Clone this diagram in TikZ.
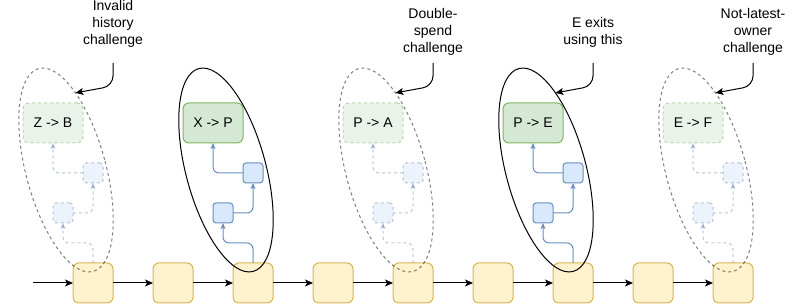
\documentclass[tikz,border=0pt]{standalone}
\usepackage{fontspec}
\setmainfont{Liberation Sans}
\usepackage{xcolor}
\usepackage{tikz}
\usetikzlibrary{arrows.meta,positioning,shapes.geometric}

\definecolor{blockfill}{HTML}{FFF2CC}
\definecolor{blockline}{HTML}{D6B656}
\definecolor{txfill}{HTML}{D5E8D4}
\definecolor{txline}{HTML}{82B366}
\definecolor{sigfill}{HTML}{DAE8FC}
\definecolor{sigline}{HTML}{6C8EBF}

\begin{document}
\begin{tikzpicture}[
  x=1pt, y=1pt,
  node distance=40pt,
  every node/.style={font=\fontsize{14}{16.8}\selectfont},
  block/.style={draw=blockline, fill=blockfill, line width=1pt, rounded corners=6pt, minimum size=40pt, inner sep=0pt, outer sep=0pt},
  tx/.style={draw=txline, fill=txfill, line width=1pt, rounded corners=6pt, minimum width=60pt, minimum height=40pt, inner sep=0pt, outer sep=0pt},
  sig/.style={draw=sigline, fill=sigfill, line width=1pt, rounded corners=3pt, minimum size=20pt, inner sep=0pt, outer sep=0pt},
  ring/.style={draw=black, ellipse, line width=1pt, minimum width=80pt, minimum height=210pt, inner sep=0pt, outer sep=0pt, rotate=15},
  ghost/.style={dash pattern=on 3pt off 3pt, draw opacity=0.5, fill opacity=0.5, text opacity=1},
  note/.style={align=center, inner sep=0pt},
  arr/.style={-{Stealth[length=8pt,width=7pt,inset=2pt]}, line width=1pt},
  link/.style={-{Stealth[length=6pt,width=5pt,inset=1.5pt]}, draw=sigline, line width=1pt, rounded corners=6pt}
]
\useasboundingbox (0,0) rectangle (794,304);

% chain of blocks
\coordinate (in) at (33,21);
\node[block] (b1) at (93,21) {};
\node[block, right=of b1] (b2) {};
\node[block, right=of b2] (b3) {};
\node[block, right=of b3] (b4) {};
\node[block, right=of b4] (b5) {};
\node[block, right=of b5] (b6) {};
\node[block, right=of b6] (b7) {};
\node[block, right=of b7] (b8) {};
\node[block, right=of b8] (b9) {};

\draw[arr] (in) -- (b1);
\draw[arr] (b1) -- (b2);
\draw[arr] (b2) -- (b3);
\draw[arr] (b3) -- (b4);
\draw[arr] (b4) -- (b5);
\draw[arr] (b5) -- (b6);
\draw[arr] (b6) -- (b7);
\draw[arr] (b7) -- (b8);
\draw[arr] (b8) -- (b9);

% Z -> B (challenged)
\node[sig, ghost, above left=40pt and 0pt of b1] (l1) {};
\node[sig, ghost, above=80pt of b1] (u1) {};
\node[tx, ghost, above left=20pt and 0pt of u1] (g1) {Z -> B};
\draw[link, ghost] (b1.north) -- ++(0,20) -| (l1.south);
\draw[link, ghost] (l1.east) -| (u1.south);
\draw[link, ghost] (u1.west) -| (g1.south);
\node[ring, ghost] (e1) at ([shift={(-27,113)}]b1) {};

% X -> P
\node[sig, above left=40pt and 0pt of b3] (l3) {};
\node[sig, above=80pt of b3] (u3) {};
\node[tx, above left=20pt and 0pt of u3] (g3) {X -> P};
\draw[link] (b3.north) -- ++(0,20) -| (l3.south);
\draw[link] (l3.east) -| (u3.south);
\draw[link] (u3.west) -| (g3.south);
\node[ring] (e3) at ([shift={(-27,113)}]b3) {};

% P -> A (challenged)
\node[sig, ghost, above left=40pt and 0pt of b5] (l5) {};
\node[sig, ghost, above=80pt of b5] (u5) {};
\node[tx, ghost, above left=20pt and 0pt of u5] (g5) {P -> A};
\draw[link, ghost] (b5.north) -- ++(0,20) -| (l5.south);
\draw[link, ghost] (l5.east) -| (u5.south);
\draw[link, ghost] (u5.west) -| (g5.south);
\node[ring, ghost] (e5) at ([shift={(-27,113)}]b5) {};

% P -> E
\node[sig, above left=40pt and 0pt of b7] (l7) {};
\node[sig, above=80pt of b7] (u7) {};
\node[tx, above left=20pt and 0pt of u7] (g7) {P -> E};
\draw[link] (b7.north) -- ++(0,20) -| (l7.south);
\draw[link] (l7.east) -| (u7.south);
\draw[link] (u7.west) -| (g7.south);
\node[ring] (e7) at ([shift={(-27,113)}]b7) {};

% E -> F (challenged)
\node[sig, ghost, above left=40pt and 0pt of b9] (l9) {};
\node[sig, ghost, above=80pt of b9] (u9) {};
\node[tx, ghost, above left=20pt and 0pt of u9] (g9) {E -> F};
\draw[link, ghost] (b9.north) -- ++(0,20) -| (l9.south);
\draw[link, ghost] (l9.east) -| (u9.south);
\draw[link, ghost] (u9.west) -| (g9.south);
\node[ring, ghost] (e9) at ([shift={(-27,113)}]b9) {};

% notes
\node[note] (t1) at (113,280) {Invalid\\history\\challenge};
\node[note] (t5) at (433,272) {Double-\\spend\\challenge};
\node[note] (t7) at (593,272) {E exits\\using this};
\node[note] (t9) at (753,272) {Not-latest-\\owner\\challenge};

\coordinate (p1) at (113,241);
\coordinate (p5) at (433,241);
\coordinate (p7) at (593,241);
\coordinate (p9) at (753,241);
\draw[arr, rounded corners=10pt] (p1) -- ++(0,-23) -- (e1.68);
\draw[arr, rounded corners=10pt] (p5) -- ++(0,-23) -- (e5.68);
\draw[arr, rounded corners=10pt] (p7) -- ++(0,-23) -- (e7.68);
\draw[arr, rounded corners=10pt] (p9) -- ++(0,-23) -- (e9.68);
\end{tikzpicture}
\end{document}
